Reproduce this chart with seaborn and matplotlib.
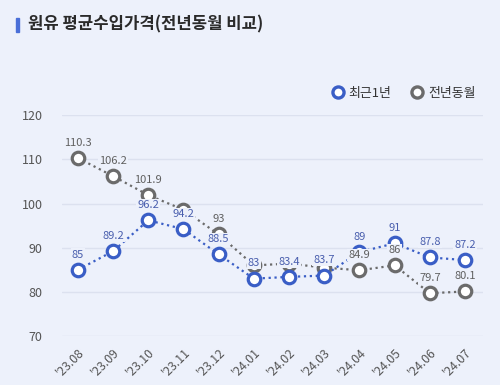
import pandas as pd
import seaborn as sns
import matplotlib.pyplot as plt
from matplotlib.lines import Line2D

# data
months = ["'23.08", "'23.09", "'23.10", "'23.11", "'23.12", "'24.01",
          "'24.02", "'24.03", "'24.04", "'24.05", "'24.06", "'24.07"]
recent = [85, 89.2, 96.2, 94.2, 88.5, 83, 83.4, 83.7, 89, 91, 87.8, 87.2]
prev_year = [110.3, 106.2, 101.9, 98.6, 93, 86.0, 86.4, 85.5, 84.9, 86, 79.7, 80.1]
# labels of the previous-year series that are hidden under the blue ones
prev_hidden = [3, 5, 6, 7]

bg = '#EDF1FB'
blue = '#3A5EC6'
blue_txt = '#4A5FAE'
gray = '#6B6B6B'
gray_txt = '#606060'

sns.set_style('white')
plt.rcParams['font.family'] = ['Noto Sans CJK KR', 'DejaVu Sans']

df = pd.DataFrame({'x': range(len(months)), 'recent': recent, 'prev': prev_year})

fig = plt.figure(figsize=(5, 3.85), dpi=100, facecolor=bg)
ax = fig.add_axes([0.124, 0.127, 0.842, 0.574], facecolor=bg)

sns.lineplot(data=df, x='x', y='prev', ax=ax, color=gray, linestyle=':', linewidth=1.6,
             marker='o', markersize=9, markerfacecolor='white', markeredgecolor=gray,
             markeredgewidth=2.3, zorder=3)
sns.lineplot(data=df, x='x', y='recent', ax=ax, color=blue, linestyle=':', linewidth=1.6,
             marker='o', markersize=9, markerfacecolor='white', markeredgecolor=blue,
             markeredgewidth=2.3, zorder=4)

# value labels
for i, v in enumerate(prev_year):
    if i in prev_hidden:
        continue
    ax.annotate(f'{v:g}', (i, v), xytext=(0, 11), textcoords='offset points',
                ha='center', va='center', fontsize=8, color=gray_txt, zorder=5,
                bbox=dict(boxstyle='square,pad=0.1', fc=bg, ec='none'))
for i, v in enumerate(recent):
    ax.annotate(f'{v:g}', (i, v), xytext=(0, 11), textcoords='offset points',
                ha='center', va='center', fontsize=8, color=blue_txt, zorder=6,
                bbox=dict(boxstyle='square,pad=0.1', fc=bg, ec='none'))

ax.set_xlim(-0.45, 11.51)
ax.set_ylim(70, 120)
ax.set_yticks([70, 80, 90, 100, 110, 120])
ax.set_xticks(range(len(months)))
ax.set_xticklabels(months, rotation=45, ha='right', rotation_mode='anchor')
ax.tick_params(axis='x', length=0, pad=7, labelsize=8.8, labelcolor='#555555')
ax.tick_params(axis='y', length=0, pad=14, labelsize=9, labelcolor='#555555')
ax.set_xlabel('')
ax.set_ylabel('')
ax.yaxis.grid(True, color='#DCE1EF', linewidth=1)
ax.xaxis.grid(False)
sns.despine(ax=ax, left=True, bottom=True)

# title with the small blue bar
fig.patches.append(plt.Rectangle((0.032, 0.918), 0.006, 0.036, transform=fig.transFigure,
                                 color='#4A6FD8', zorder=5))
fig.text(0.056, 0.936, '원유 평균수입가격(전년동월 비교)', fontsize=12, fontweight='bold',
         color='#2A2A2A', va='center', ha='left')

# legend
handles = [Line2D([], [], linestyle='none', marker='o', markersize=8, markerfacecolor='white',
                  markeredgecolor=blue, markeredgewidth=2.4),
           Line2D([], [], linestyle='none', marker='o', markersize=8, markerfacecolor='white',
                  markeredgecolor=gray, markeredgewidth=2.4)]
fig.legend(handles, ['최근1년', '전년동월'], loc='center right', bbox_to_anchor=(0.975, 0.758),
           ncol=2, frameon=False, fontsize=9.3, handletextpad=0.35, columnspacing=1.5,
           handlelength=1.0, labelcolor='#333333')

fig.savefig('out.png', dpi=100, facecolor=bg)
